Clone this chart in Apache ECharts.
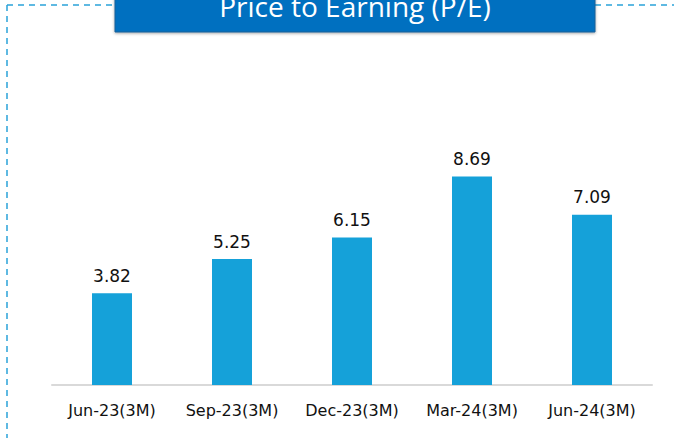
<!DOCTYPE html>
<html>
<head>
    <meta charset="utf-8">
    <title>Price to Earning (P/E)</title>
    <script src="https://cdn.jsdelivr.net/npm/echarts@6/dist/echarts.min.js"></script>
    <style>
        html, body {margin: 0; padding: 0; background: #fff;}
        #main {width: 674px; height: 438px;}
    </style>
</head>
<body>
<div id="main"></div>
<script type="text/javascript">
    // data
    var quarters = ['Jun-23(3M)', 'Sep-23(3M)', 'Dec-23(3M)', 'Mar-24(3M)', 'Jun-24(3M)'];
    var peValues = [3.82, 5.25, 6.15, 8.69, 7.09];
    var titleText = 'Price to Earning (P/E)';

    var myChart = echarts.init(document.getElementById('main'), null, {renderer: 'svg'});

    var dashStyle = {stroke: '#2aa3d9', lineWidth: 1.5, lineDash: [6, 5]};

    var option = {
        animation: false,
        backgroundColor: '#fff',
        grid: {left: 52, right: 22, top: 145, bottom: 53},
        xAxis: {
            type: 'category',
            data: quarters,
            axisTick: {show: false},
            axisLine: {lineStyle: {color: '#d9d9d9', width: 2}},
            axisLabel: {
                interval: 0,
                color: '#111',
                fontSize: 16,
                fontFamily: 'DejaVu Sans',
                margin: 17
            }
        },
        yAxis: {
            type: 'value',
            min: 0,
            max: 10,
            show: false,
            splitLine: {show: false}
        },
        series: [{
            name: 'P/E',
            type: 'bar',
            data: peValues,
            barWidth: 40,
            itemStyle: {color: '#15a1d9'},
            label: {
                show: true,
                position: 'top',
                distance: 9,
                color: '#111',
                fontSize: 17,
                fontFamily: 'DejaVu Sans',
                formatter: function (p) { return p.value.toFixed(2); }
            }
        }],
        graphic: [
            // dashed frame
            {type: 'line', shape: {x1: 7, y1: 5, x2: 115, y2: 5}, style: dashStyle, silent: true},
            {type: 'line', shape: {x1: 595, y1: 5, x2: 674, y2: 5}, style: dashStyle, silent: true},
            {type: 'line', shape: {x1: 7, y1: 5, x2: 7, y2: 438}, style: dashStyle, silent: true},
            // title box
            {
                type: 'rect',
                shape: {x: 115, y: -6, width: 480, height: 38},
                style: {
                    fill: '#0070c0',
                    stroke: '#1a5e96',
                    lineWidth: 1,
                    shadowBlur: 3,
                    shadowColor: 'rgba(0,0,0,0.35)',
                    shadowOffsetY: 1
                },
                z: 10
            },
            {
                type: 'text',
                x: 355,
                y: 6,
                style: {
                    text: titleText,
                    fill: '#fff',
                    fontSize: 28,
                    fontFamily: 'Open Sans, Noto Sans',
                    align: 'center',
                    verticalAlign: 'middle'
                },
                z: 11
            }
        ]
    };

    myChart.setOption(option);
</script>
</body>
</html>
